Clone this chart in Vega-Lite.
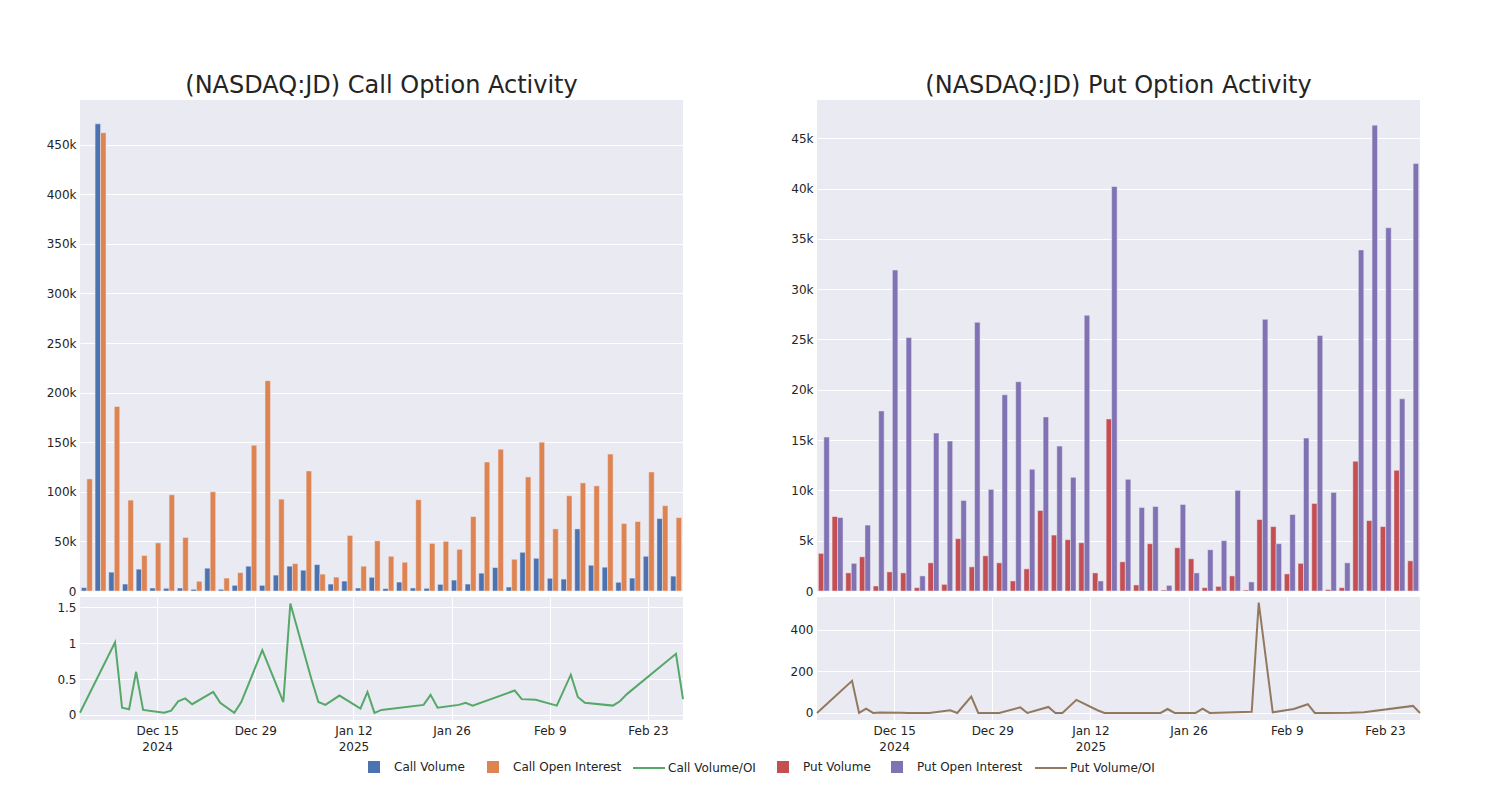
{
  "$schema": "https://vega.github.io/schema/vega-lite/v6.json",
  "autosize": {"type": "pad"},
  "padding": {"left": 46, "top": 74, "right": 5, "bottom": 5},
  "background": "white",
  "config": {
    "font": "DejaVu Sans",
    "view": {"fill": "#EAEAF2", "stroke": null},
    "axis": {"gridColor": "white", "gridWidth": 1, "domain": false, "ticks": false, "labelColor": "#242424", "labelFontSize": 12, "labelFont": "DejaVu Sans", "title": null, "labelPadding": 4},
    "title": {"fontSize": 24, "fontWeight": "normal", "color": "#242424", "font": "DejaVu Sans", "anchor": "middle", "offset": 2},
    "legend": {"orient": "none", "direction": "horizontal", "title": null, "labelFontSize": 12, "labelColor": "#242424", "labelFont": "DejaVu Sans", "padding": 0}
  },
  "datasets": {
    "d": [
      {"date": "2024-12-04", "Call Volume": 3400, "Call Open Interest": 113000, "cr": 0.03, "Put Volume": 3740, "Put Open Interest": 15300, "pr": 0},
      {"date": "2024-12-09", "Call Volume": 471000, "Call Open Interest": 462000, "cr": 1.01, "Put Volume": 7400, "Put Open Interest": 7300, "pr": 155},
      {"date": "2024-12-10", "Call Volume": 19000, "Call Open Interest": 186000, "cr": 0.10, "Put Volume": 1800, "Put Open Interest": 2750, "pr": 0},
      {"date": "2024-12-11", "Call Volume": 7000, "Call Open Interest": 91600, "cr": 0.08, "Put Volume": 3400, "Put Open Interest": 6550, "pr": 21},
      {"date": "2024-12-12", "Call Volume": 22000, "Call Open Interest": 35700, "cr": 0.60, "Put Volume": 500, "Put Open Interest": 17900, "pr": 0},
      {"date": "2024-12-13", "Call Volume": 3000, "Call Open Interest": 48500, "cr": 0.07, "Put Volume": 1900, "Put Open Interest": 31900, "pr": 2},
      {"date": "2024-12-16", "Call Volume": 2700, "Call Open Interest": 97000, "cr": 0.03, "Put Volume": 1800, "Put Open Interest": 25200, "pr": 1},
      {"date": "2024-12-17", "Call Volume": 3000, "Call Open Interest": 54000, "cr": 0.06, "Put Volume": 330, "Put Open Interest": 1500, "pr": 0},
      {"date": "2024-12-18", "Call Volume": 1700, "Call Open Interest": 9800, "cr": 0.19, "Put Volume": 2800, "Put Open Interest": 15700, "pr": 0},
      {"date": "2024-12-19", "Call Volume": 23000, "Call Open Interest": 100000, "cr": 0.23, "Put Volume": 660, "Put Open Interest": 14900, "pr": 0},
      {"date": "2024-12-20", "Call Volume": 1700, "Call Open Interest": 13000, "cr": 0.15, "Put Volume": 5200, "Put Open Interest": 9000, "pr": 0},
      {"date": "2024-12-23", "Call Volume": 5700, "Call Open Interest": 18500, "cr": 0.32, "Put Volume": 2400, "Put Open Interest": 26700, "pr": 13},
      {"date": "2024-12-24", "Call Volume": 25000, "Call Open Interest": 147000, "cr": 0.17, "Put Volume": 3500, "Put Open Interest": 10100, "pr": 0},
      {"date": "2024-12-26", "Call Volume": 5700, "Call Open Interest": 212000, "cr": 0.03, "Put Volume": 2800, "Put Open Interest": 19500, "pr": 79},
      {"date": "2024-12-27", "Call Volume": 16000, "Call Open Interest": 92600, "cr": 0.18, "Put Volume": 1000, "Put Open Interest": 20800, "pr": 0},
      {"date": "2024-12-30", "Call Volume": 25000, "Call Open Interest": 27600, "cr": 0.90, "Put Volume": 2200, "Put Open Interest": 12100, "pr": 0},
      {"date": "2025-01-02", "Call Volume": 21000, "Call Open Interest": 121000, "cr": 0.18, "Put Volume": 8000, "Put Open Interest": 17300, "pr": 27},
      {"date": "2025-01-03", "Call Volume": 26600, "Call Open Interest": 17000, "cr": 1.55, "Put Volume": 5560, "Put Open Interest": 14400, "pr": 0},
      {"date": "2025-01-06", "Call Volume": 7000, "Call Open Interest": 14000, "cr": 0.50, "Put Volume": 5100, "Put Open Interest": 11300, "pr": 29},
      {"date": "2025-01-07", "Call Volume": 10000, "Call Open Interest": 56000, "cr": 0.18, "Put Volume": 4800, "Put Open Interest": 27400, "pr": 0},
      {"date": "2025-01-08", "Call Volume": 3000, "Call Open Interest": 25000, "cr": 0.14, "Put Volume": 1800, "Put Open Interest": 1000, "pr": 0},
      {"date": "2025-01-10", "Call Volume": 13800, "Call Open Interest": 50500, "cr": 0.27, "Put Volume": 17100, "Put Open Interest": 40200, "pr": 63},
      {"date": "2025-01-13", "Call Volume": 2400, "Call Open Interest": 35000, "cr": 0.09, "Put Volume": 2900, "Put Open Interest": 11100, "pr": 13},
      {"date": "2025-01-14", "Call Volume": 9000, "Call Open Interest": 29000, "cr": 0.32, "Put Volume": 600, "Put Open Interest": 8300, "pr": 0},
      {"date": "2025-01-15", "Call Volume": 3000, "Call Open Interest": 92000, "cr": 0.03, "Put Volume": 4700, "Put Open Interest": 8400, "pr": 0},
      {"date": "2025-01-16", "Call Volume": 2700, "Call Open Interest": 48000, "cr": 0.07, "Put Volume": 100, "Put Open Interest": 560, "pr": 0},
      {"date": "2025-01-22", "Call Volume": 6700, "Call Open Interest": 50000, "cr": 0.14, "Put Volume": 4300, "Put Open Interest": 8600, "pr": 0},
      {"date": "2025-01-23", "Call Volume": 11000, "Call Open Interest": 42000, "cr": 0.28, "Put Volume": 3200, "Put Open Interest": 1800, "pr": 19},
      {"date": "2025-01-24", "Call Volume": 7000, "Call Open Interest": 75000, "cr": 0.10, "Put Volume": 330, "Put Open Interest": 4100, "pr": 0},
      {"date": "2025-01-27", "Call Volume": 18000, "Call Open Interest": 130000, "cr": 0.14, "Put Volume": 460, "Put Open Interest": 5000, "pr": 0},
      {"date": "2025-01-28", "Call Volume": 23600, "Call Open Interest": 143000, "cr": 0.17, "Put Volume": 1500, "Put Open Interest": 10000, "pr": 21},
      {"date": "2025-01-29", "Call Volume": 4000, "Call Open Interest": 32000, "cr": 0.13, "Put Volume": 100, "Put Open Interest": 900, "pr": 0},
      {"date": "2025-02-04", "Call Volume": 39000, "Call Open Interest": 115000, "cr": 0.34, "Put Volume": 7100, "Put Open Interest": 27000, "pr": 6},
      {"date": "2025-02-05", "Call Volume": 33000, "Call Open Interest": 150000, "cr": 0.22, "Put Volume": 6400, "Put Open Interest": 4700, "pr": 532},
      {"date": "2025-02-07", "Call Volume": 12800, "Call Open Interest": 62600, "cr": 0.21, "Put Volume": 1700, "Put Open Interest": 7600, "pr": 3},
      {"date": "2025-02-10", "Call Volume": 12000, "Call Open Interest": 96000, "cr": 0.13, "Put Volume": 2750, "Put Open Interest": 15200, "pr": 19},
      {"date": "2025-02-12", "Call Volume": 62600, "Call Open Interest": 109000, "cr": 0.56, "Put Volume": 8700, "Put Open Interest": 25400, "pr": 42},
      {"date": "2025-02-13", "Call Volume": 26000, "Call Open Interest": 106000, "cr": 0.25, "Put Volume": 150, "Put Open Interest": 9800, "pr": 0},
      {"date": "2025-02-14", "Call Volume": 24000, "Call Open Interest": 138000, "cr": 0.17, "Put Volume": 330, "Put Open Interest": 2800, "pr": 0},
      {"date": "2025-02-18", "Call Volume": 8800, "Call Open Interest": 68000, "cr": 0.13, "Put Volume": 12900, "Put Open Interest": 33900, "pr": 1},
      {"date": "2025-02-19", "Call Volume": 13000, "Call Open Interest": 70000, "cr": 0.19, "Put Volume": 7000, "Put Open Interest": 46300, "pr": 2},
      {"date": "2025-02-20", "Call Volume": 35000, "Call Open Interest": 120000, "cr": 0.29, "Put Volume": 6400, "Put Open Interest": 36100, "pr": 3},
      {"date": "2025-02-27", "Call Volume": 73000, "Call Open Interest": 86000, "cr": 0.85, "Put Volume": 12000, "Put Open Interest": 19100, "pr": 34},
      {"date": "2025-02-28", "Call Volume": 15000, "Call Open Interest": 74000, "cr": 0.22, "Put Volume": 3000, "Put Open Interest": 42500, "pr": 0}
    ]
  },
  "columns": 2,
  "bounds": "flush",
  "spacing": {"row": 6, "column": 134},
  "resolve": {"scale": {"color": "independent", "xOffset": "independent", "x": "independent", "y": "independent"}, "legend": {"color": "independent"}},
  "concat": [
    {
      "title": "(NASDAQ:JD) Call Option Activity",
      "width": 603, "height": 491,
      "data": {"name": "d"},
      "transform": [{"fold": ["Call Volume", "Call Open Interest"], "as": ["series", "value"]}],
      "mark": {"type": "bar", "stroke": "#EAEAF2", "strokeWidth": 0.5, "width": {"band": 1}},
      "encoding": {
        "x": {"field": "date", "type": "nominal", "sort": null, "scale": {"paddingInner": 0.2, "paddingOuter": 0.1}, "axis": {"labels": false, "grid": true, "bandPosition": 0.5, "labelPadding": 0, "values": ["2024-12-04", "2024-12-20", "2025-01-08", "2025-01-28", "2025-02-19"]}},
        "xOffset": {"field": "series", "type": "nominal", "sort": ["Call Volume", "Call Open Interest"], "scale": {"paddingInner": 0, "paddingOuter": 0}},
        "y": {"field": "value", "type": "quantitative", "scale": {"domain": [0, 495000], "nice": false}, "axis": {"values": [0, 50000, 100000, 150000, 200000, 250000, 300000, 350000, 400000, 450000], "labelExpr": "datum.value == 0 ? '0' : format(datum.value, '~s')", "grid": true}},
        "color": {"field": "series", "type": "nominal",
          "scale": {"domain": ["Call Volume", "Call Open Interest"], "range": ["#4C72B0", "#DD8452"]},
          "legend": {"legendX": 288, "legendY": 661, "symbolType": "square", "symbolSize": 144, "symbolStrokeWidth": 0, "labelOffset": 14, "columnPadding": 22}
        }
      }
    },
    {
      "title": "(NASDAQ:JD) Put Option Activity",
      "width": 603, "height": 491,
      "data": {"name": "d"},
      "transform": [{"fold": ["Put Volume", "Put Open Interest"], "as": ["series", "value"]}],
      "mark": {"type": "bar", "stroke": "#EAEAF2", "strokeWidth": 0.5, "width": {"band": 1}},
      "encoding": {
        "x": {"field": "date", "type": "nominal", "sort": null, "scale": {"paddingInner": 0.2, "paddingOuter": 0.1}, "axis": {"labels": false, "grid": true, "bandPosition": 0.5, "labelPadding": 0, "values": ["2024-12-04", "2024-12-20", "2025-01-08", "2025-01-28", "2025-02-19"]}},
        "xOffset": {"field": "series", "type": "nominal", "sort": ["Put Volume", "Put Open Interest"], "scale": {"paddingInner": 0, "paddingOuter": 0}},
        "y": {"field": "value", "type": "quantitative", "scale": {"domain": [0, 48800], "nice": false}, "axis": {"values": [0, 5000, 10000, 15000, 20000, 25000, 30000, 35000, 40000, 45000], "labelExpr": "datum.value == 0 ? '0' : format(datum.value, '~s')", "grid": true}},
        "color": {"field": "series", "type": "nominal",
          "scale": {"domain": ["Put Volume", "Put Open Interest"], "range": ["#C44E52", "#8172B3"]},
          "legend": {"legendX": -40, "legendY": 661, "symbolType": "square", "symbolSize": 144, "symbolStrokeWidth": 0, "labelOffset": 14, "columnPadding": 20}
        }
      }
    },
    {
      "width": 603, "height": 123,
      "data": {"name": "d"},
      "mark": {"type": "line", "strokeWidth": 2},
      "encoding": {
        "x": {"field": "date", "type": "temporal",
          "scale": {"type": "utc", "nice": false, "domain": [{"year": 2024, "month": 12, "date": 4, "utc": true}, {"year": 2025, "month": 2, "date": 28, "utc": true}]},
          "axis": {"grid": true, "labelPadding": 5, "labelLineHeight": 16,
            "values": [{"year": 2024, "month": 12, "date": 15, "utc": true}, {"year": 2024, "month": 12, "date": 29, "utc": true}, {"year": 2025, "month": 1, "date": 12, "utc": true}, {"year": 2025, "month": 1, "date": 26, "utc": true}, {"year": 2025, "month": 2, "date": 9, "utc": true}, {"year": 2025, "month": 2, "date": 23, "utc": true}],
            "labelExpr": "[utcFormat(datum.value, '%b %-d'), utcFormat(datum.value, '%b %-d') == 'Dec 15' ? '2024' : (utcFormat(datum.value, '%b %-d') == 'Jan 12' ? '2025' : '')]"}},
        "y": {"field": "cr", "type": "quantitative", "scale": {"domain": [-0.07, 1.64], "nice": false, "zero": false}, "axis": {"values": [0, 0.5, 1, 1.5], "format": "~g", "grid": true}},
        "color": {"datum": "Call Volume/OI", "type": "nominal",
          "scale": {"domain": ["Call Volume/OI"], "range": ["#55A868"]},
          "legend": {"legendX": 552, "legendY": 154, "symbolType": "stroke", "symbolSize": 1024, "symbolStrokeWidth": 2, "labelOffset": 2}
        }
      }
    },
    {
      "width": 603, "height": 123,
      "data": {"name": "d"},
      "mark": {"type": "line", "strokeWidth": 2},
      "encoding": {
        "x": {"field": "date", "type": "temporal",
          "scale": {"type": "utc", "nice": false, "domain": [{"year": 2024, "month": 12, "date": 4, "utc": true}, {"year": 2025, "month": 2, "date": 28, "utc": true}]},
          "axis": {"grid": true, "labelPadding": 5, "labelLineHeight": 16,
            "values": [{"year": 2024, "month": 12, "date": 15, "utc": true}, {"year": 2024, "month": 12, "date": 29, "utc": true}, {"year": 2025, "month": 1, "date": 12, "utc": true}, {"year": 2025, "month": 1, "date": 26, "utc": true}, {"year": 2025, "month": 2, "date": 9, "utc": true}, {"year": 2025, "month": 2, "date": 23, "utc": true}],
            "labelExpr": "[utcFormat(datum.value, '%b %-d'), utcFormat(datum.value, '%b %-d') == 'Dec 15' ? '2024' : (utcFormat(datum.value, '%b %-d') == 'Jan 12' ? '2025' : '')]"}},
        "y": {"field": "pr", "type": "quantitative", "scale": {"domain": [-34, 559], "nice": false, "zero": false}, "axis": {"values": [0, 200, 400], "grid": true}},
        "color": {"datum": "Put Volume/OI", "type": "nominal",
          "scale": {"domain": ["Put Volume/OI"], "range": ["#937860"]},
          "legend": {"legendX": 217, "legendY": 154, "symbolType": "stroke", "symbolSize": 1024, "symbolStrokeWidth": 2, "labelOffset": 2}
        }
      }
    }
  ]
}
